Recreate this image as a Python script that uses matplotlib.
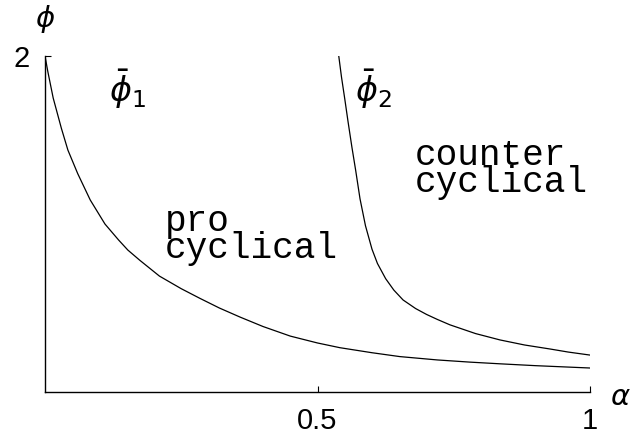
import matplotlib.pyplot as plt

alpha1 = [0.0, 0.005, 0.015, 0.03, 0.042, 0.06, 0.083, 0.11, 0.135, 0.152, 0.174, 0.21,
          0.25, 0.284, 0.32, 0.358, 0.40, 0.45, 0.50, 0.541, 0.60, 0.651, 0.72, 0.78,
          0.835, 0.90, 0.95, 1.0]
phi1 = [2.0, 1.91, 1.75, 1.57, 1.44, 1.30, 1.143, 1.0, 0.905, 0.845, 0.784, 0.69,
        0.615, 0.558, 0.50, 0.446, 0.39, 0.333, 0.292, 0.264, 0.234, 0.211, 0.191, 0.178,
        0.168, 0.157, 0.15, 0.143]

alpha2 = [0.539, 0.544, 0.55, 0.556, 0.563, 0.57, 0.578, 0.588, 0.6, 0.61, 0.625, 0.64,
          0.657, 0.68, 0.70, 0.72, 0.743, 0.79, 0.835, 0.88, 0.927, 0.96, 1.0]
phi2 = [2.0, 1.875, 1.745, 1.61, 1.46, 1.32, 1.15, 0.99, 0.85, 0.765, 0.675, 0.607,
        0.548, 0.497, 0.462, 0.432, 0.40, 0.348, 0.31, 0.28, 0.256, 0.238, 0.22]

xticks = [0.5, 1]
xtick_labels = ['0.5', '1']
yticks = [2]
ytick_labels = ['2']

fig = plt.figure(figsize=(6.34, 4.40), dpi=100)
ax = fig.add_axes([0.071, 0.109, 0.8596, 0.7637])

ax.plot(alpha1, phi1, color='black', lw=0.9)
ax.plot(alpha2, phi2, color='black', lw=0.9)

ax.set_xlim(0, 1)
ax.set_ylim(0, 2)

# so os eixos da esquerda e de baixo
ax.spines['top'].set_visible(False)
ax.spines['right'].set_visible(False)
for s in ['left', 'bottom']:
    ax.spines[s].set_linewidth(1.0)

ax.set_xticks(xticks)
ax.set_xticklabels(xtick_labels)
ax.set_yticks(yticks)
ax.set_yticklabels(ytick_labels)
ax.tick_params(direction='in', length=4, width=0.8, pad=11, labelsize=21)
for lab in ax.get_xticklabels() + ax.get_yticklabels():
    lab.set_family('Liberation Sans')

# nomes dos eixos
ax.text(0.0, 2.22, r'$\phi$', fontsize=21, ha='center', va='center', clip_on=False)
ax.text(1.055, -0.03, r'$\alpha$', fontsize=21, ha='center', va='center', clip_on=False)

# nomes das curvas
ax.text(0.152, 1.80, r'$\bar{\phi}_1$', fontsize=24, ha='center', va='center')
ax.text(0.602, 1.80, r'$\bar{\phi}_2$', fontsize=24, ha='center', va='center')

# regioes (duas linhas bem juntas)
mono = dict(family='Liberation Mono', fontsize=26, va='baseline', ha='left', linespacing=0.70)
ax.text(0.220, 0.798, 'pro\ncyclical', **mono)
ax.text(0.679, 1.190, 'counter\ncyclical', **mono)

plt.savefig('out.png', dpi=100)
